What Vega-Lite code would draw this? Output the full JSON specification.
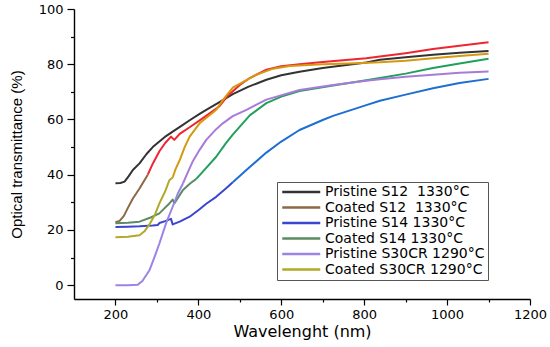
{
  "$schema": "https://vega.github.io/schema/vega-lite/v6.json",
  "width": 456,
  "height": 290,
  "autosize": "none",
  "padding": {"left": 74, "top": 9, "right": 20, "bottom": 48},
  "background": "white",
  "config": {
    "view": {"stroke": null},
    "font": "DejaVu Sans",
    "axis": {
      "grid": false,
      "domainColor": "#000000",
      "domainWidth": 1.4,
      "tickColor": "#000000",
      "tickWidth": 1.2,
      "labelColor": "#000000",
      "titleColor": "#000000",
      "labelFont": "DejaVu Sans",
      "titleFont": "DejaVu Sans",
      "labelFontSize": 13,
      "titleFontWeight": "normal"
    }
  },
  "datasets": {
    "curves": [
      {"s": "Pristine S12\u00a0 1330°C", "g": "a", "x": 200, "y": 36.9},
      {"s": "Pristine S12\u00a0 1330°C", "g": "a", "x": 212, "y": 37.0},
      {"s": "Pristine S12\u00a0 1330°C", "g": "a", "x": 222, "y": 37.5},
      {"s": "Pristine S12\u00a0 1330°C", "g": "a", "x": 232, "y": 39.5},
      {"s": "Pristine S12\u00a0 1330°C", "g": "a", "x": 242, "y": 41.7},
      {"s": "Pristine S12\u00a0 1330°C", "g": "a", "x": 258, "y": 44.1},
      {"s": "Pristine S12\u00a0 1330°C", "g": "a", "x": 275, "y": 47.5},
      {"s": "Pristine S12\u00a0 1330°C", "g": "a", "x": 290, "y": 50.0},
      {"s": "Pristine S12\u00a0 1330°C", "g": "a", "x": 306, "y": 52.0},
      {"s": "Pristine S12\u00a0 1330°C", "g": "a", "x": 322, "y": 54.0},
      {"s": "Pristine S12\u00a0 1330°C", "g": "a", "x": 338, "y": 55.6},
      {"s": "Pristine S12\u00a0 1330°C", "g": "a", "x": 360, "y": 57.8},
      {"s": "Pristine S12\u00a0 1330°C", "g": "a", "x": 380, "y": 59.8},
      {"s": "Pristine S12\u00a0 1330°C", "g": "a", "x": 403, "y": 62.0},
      {"s": "Pristine S12\u00a0 1330°C", "g": "a", "x": 419, "y": 63.5},
      {"s": "Pristine S12\u00a0 1330°C", "g": "a", "x": 451, "y": 66.3},
      {"s": "Pristine S12\u00a0 1330°C", "g": "a", "x": 483, "y": 69.2},
      {"s": "Pristine S12\u00a0 1330°C", "g": "a", "x": 520, "y": 71.8},
      {"s": "Pristine S12\u00a0 1330°C", "g": "a", "x": 564, "y": 74.4},
      {"s": "Pristine S12\u00a0 1330°C", "g": "a", "x": 600, "y": 76.0},
      {"s": "Pristine S12\u00a0 1330°C", "g": "a", "x": 644, "y": 77.3},
      {"s": "Pristine S12\u00a0 1330°C", "g": "a", "x": 700, "y": 78.6},
      {"s": "Pristine S12\u00a0 1330°C", "g": "a", "x": 805, "y": 80.6},
      {"s": "Pristine S12\u00a0 1330°C", "g": "a", "x": 838, "y": 81.6},
      {"s": "Pristine S12\u00a0 1330°C", "g": "a", "x": 900, "y": 82.5},
      {"s": "Pristine S12\u00a0 1330°C", "g": "a", "x": 966, "y": 83.4},
      {"s": "Pristine S12\u00a0 1330°C", "g": "a", "x": 1030, "y": 84.2},
      {"s": "Pristine S12\u00a0 1330°C", "g": "a", "x": 1100, "y": 84.8},

      {"s": "Coated S12\u00a0 1330°C", "g": "a", "x": 200, "y": 22.8},
      {"s": "Coated S12\u00a0 1330°C", "g": "a", "x": 210, "y": 23.3},
      {"s": "Coated S12\u00a0 1330°C", "g": "a", "x": 220, "y": 25.0},
      {"s": "Coated S12\u00a0 1330°C", "g": "a", "x": 230, "y": 28.0},
      {"s": "Coated S12\u00a0 1330°C", "g": "a", "x": 242, "y": 31.4},
      {"s": "Coated S12\u00a0 1330°C", "g": "a", "x": 258, "y": 35.0},
      {"s": "Coated S12\u00a0 1330°C", "g": "a", "x": 270, "y": 38.0},
      {"s": "Coated S12\u00a0 1330°C", "g": "a", "x": 278, "y": 40.0},
      {"s": "Coated S12\u00a0 1330°C", "g": "b", "x": 278, "y": 40.0},
      {"s": "Coated S12\u00a0 1330°C", "g": "b", "x": 290, "y": 44.0},
      {"s": "Coated S12\u00a0 1330°C", "g": "b", "x": 306, "y": 48.5},
      {"s": "Coated S12\u00a0 1330°C", "g": "b", "x": 320, "y": 51.5},
      {"s": "Coated S12\u00a0 1330°C", "g": "b", "x": 334, "y": 53.8},
      {"s": "Coated S12\u00a0 1330°C", "g": "b", "x": 342, "y": 52.6},
      {"s": "Coated S12\u00a0 1330°C", "g": "b", "x": 355, "y": 54.8},
      {"s": "Coated S12\u00a0 1330°C", "g": "b", "x": 379, "y": 57.2},
      {"s": "Coated S12\u00a0 1330°C", "g": "b", "x": 411, "y": 60.5},
      {"s": "Coated S12\u00a0 1330°C", "g": "b", "x": 451, "y": 64.8},
      {"s": "Coated S12\u00a0 1330°C", "g": "b", "x": 471, "y": 68.6},
      {"s": "Coated S12\u00a0 1330°C", "g": "b", "x": 500, "y": 72.5},
      {"s": "Coated S12\u00a0 1330°C", "g": "b", "x": 524, "y": 75.0},
      {"s": "Coated S12\u00a0 1330°C", "g": "b", "x": 564, "y": 78.0},
      {"s": "Coated S12\u00a0 1330°C", "g": "b", "x": 600, "y": 79.3},
      {"s": "Coated S12\u00a0 1330°C", "g": "b", "x": 644, "y": 80.0},
      {"s": "Coated S12\u00a0 1330°C", "g": "b", "x": 700, "y": 80.8},
      {"s": "Coated S12\u00a0 1330°C", "g": "b", "x": 805, "y": 82.2},
      {"s": "Coated S12\u00a0 1330°C", "g": "b", "x": 838, "y": 82.8},
      {"s": "Coated S12\u00a0 1330°C", "g": "b", "x": 900, "y": 84.0},
      {"s": "Coated S12\u00a0 1330°C", "g": "b", "x": 966, "y": 85.5},
      {"s": "Coated S12\u00a0 1330°C", "g": "b", "x": 1030, "y": 86.7},
      {"s": "Coated S12\u00a0 1330°C", "g": "b", "x": 1100, "y": 88.0},

      {"s": "Pristine S14 1330°C", "g": "a", "x": 200, "y": 21.1},
      {"s": "Pristine S14 1330°C", "g": "a", "x": 230, "y": 21.2},
      {"s": "Pristine S14 1330°C", "g": "a", "x": 258, "y": 21.3},
      {"s": "Pristine S14 1330°C", "g": "a", "x": 290, "y": 21.6},
      {"s": "Pristine S14 1330°C", "g": "a", "x": 302, "y": 21.8},
      {"s": "Pristine S14 1330°C", "g": "a", "x": 306, "y": 22.5},
      {"s": "Pristine S14 1330°C", "g": "a", "x": 320, "y": 23.2},
      {"s": "Pristine S14 1330°C", "g": "a", "x": 334, "y": 24.0},
      {"s": "Pristine S14 1330°C", "g": "a", "x": 338, "y": 22.0},
      {"s": "Pristine S14 1330°C", "g": "a", "x": 355, "y": 23.0},
      {"s": "Pristine S14 1330°C", "g": "a", "x": 379, "y": 24.8},
      {"s": "Pristine S14 1330°C", "g": "a", "x": 403, "y": 27.5},
      {"s": "Pristine S14 1330°C", "g": "a", "x": 419, "y": 29.5},
      {"s": "Pristine S14 1330°C", "g": "a", "x": 443, "y": 32.0},
      {"s": "Pristine S14 1330°C", "g": "a", "x": 467, "y": 35.1},
      {"s": "Pristine S14 1330°C", "g": "a", "x": 483, "y": 37.3},
      {"s": "Pristine S14 1330°C", "g": "b", "x": 483, "y": 37.3},
      {"s": "Pristine S14 1330°C", "g": "b", "x": 524, "y": 42.8},
      {"s": "Pristine S14 1330°C", "g": "b", "x": 564, "y": 48.0},
      {"s": "Pristine S14 1330°C", "g": "b", "x": 600, "y": 52.0},
      {"s": "Pristine S14 1330°C", "g": "b", "x": 644, "y": 56.2},
      {"s": "Pristine S14 1330°C", "g": "b", "x": 700, "y": 59.8},
      {"s": "Pristine S14 1330°C", "g": "b", "x": 725, "y": 61.3},
      {"s": "Pristine S14 1330°C", "g": "b", "x": 805, "y": 65.2},
      {"s": "Pristine S14 1330°C", "g": "b", "x": 838, "y": 66.8},
      {"s": "Pristine S14 1330°C", "g": "b", "x": 900, "y": 69.0},
      {"s": "Pristine S14 1330°C", "g": "b", "x": 966, "y": 71.3},
      {"s": "Pristine S14 1330°C", "g": "b", "x": 1030, "y": 73.2},
      {"s": "Pristine S14 1330°C", "g": "b", "x": 1100, "y": 74.7},

      {"s": "Coated S14 1330°C", "g": "a", "x": 200, "y": 22.4},
      {"s": "Coated S14 1330°C", "g": "a", "x": 230, "y": 22.6},
      {"s": "Coated S14 1330°C", "g": "a", "x": 258, "y": 23.0},
      {"s": "Coated S14 1330°C", "g": "a", "x": 285, "y": 24.5},
      {"s": "Coated S14 1330°C", "g": "a", "x": 306, "y": 26.0},
      {"s": "Coated S14 1330°C", "g": "a", "x": 318, "y": 27.8},
      {"s": "Coated S14 1330°C", "g": "a", "x": 330, "y": 29.6},
      {"s": "Coated S14 1330°C", "g": "a", "x": 338, "y": 31.0},
      {"s": "Coated S14 1330°C", "g": "a", "x": 342, "y": 29.6},
      {"s": "Coated S14 1330°C", "g": "a", "x": 363, "y": 34.5},
      {"s": "Coated S14 1330°C", "g": "a", "x": 380, "y": 36.8},
      {"s": "Coated S14 1330°C", "g": "a", "x": 395, "y": 38.5},
      {"s": "Coated S14 1330°C", "g": "b", "x": 395, "y": 38.5},
      {"s": "Coated S14 1330°C", "g": "b", "x": 419, "y": 42.5},
      {"s": "Coated S14 1330°C", "g": "b", "x": 443, "y": 46.5},
      {"s": "Coated S14 1330°C", "g": "b", "x": 467, "y": 51.5},
      {"s": "Coated S14 1330°C", "g": "b", "x": 483, "y": 54.5},
      {"s": "Coated S14 1330°C", "g": "b", "x": 524, "y": 61.5},
      {"s": "Coated S14 1330°C", "g": "b", "x": 564, "y": 65.9},
      {"s": "Coated S14 1330°C", "g": "b", "x": 600, "y": 68.3},
      {"s": "Coated S14 1330°C", "g": "b", "x": 644, "y": 70.3},
      {"s": "Coated S14 1330°C", "g": "b", "x": 725, "y": 72.3},
      {"s": "Coated S14 1330°C", "g": "b", "x": 805, "y": 74.2},
      {"s": "Coated S14 1330°C", "g": "b", "x": 838, "y": 75.0},
      {"s": "Coated S14 1330°C", "g": "b", "x": 900, "y": 76.6},
      {"s": "Coated S14 1330°C", "g": "b", "x": 966, "y": 78.6},
      {"s": "Coated S14 1330°C", "g": "b", "x": 1030, "y": 80.3},
      {"s": "Coated S14 1330°C", "g": "b", "x": 1100, "y": 82.0},

      {"s": "Pristine S30CR 1290°C", "g": "a", "x": 200, "y": 0.0},
      {"s": "Pristine S30CR 1290°C", "g": "a", "x": 230, "y": 0.0},
      {"s": "Pristine S30CR 1290°C", "g": "a", "x": 254, "y": 0.2},
      {"s": "Pristine S30CR 1290°C", "g": "a", "x": 265, "y": 1.5},
      {"s": "Pristine S30CR 1290°C", "g": "a", "x": 282, "y": 5.4},
      {"s": "Pristine S30CR 1290°C", "g": "a", "x": 295, "y": 10.5},
      {"s": "Pristine S30CR 1290°C", "g": "a", "x": 306, "y": 15.1},
      {"s": "Pristine S30CR 1290°C", "g": "a", "x": 322, "y": 22.4},
      {"s": "Pristine S30CR 1290°C", "g": "a", "x": 338, "y": 28.4},
      {"s": "Pristine S30CR 1290°C", "g": "a", "x": 350, "y": 33.0},
      {"s": "Pristine S30CR 1290°C", "g": "a", "x": 363, "y": 36.9},
      {"s": "Pristine S30CR 1290°C", "g": "b", "x": 363, "y": 36.9},
      {"s": "Pristine S30CR 1290°C", "g": "b", "x": 375, "y": 41.0},
      {"s": "Pristine S30CR 1290°C", "g": "b", "x": 387, "y": 45.0},
      {"s": "Pristine S30CR 1290°C", "g": "b", "x": 403, "y": 49.0},
      {"s": "Pristine S30CR 1290°C", "g": "b", "x": 419, "y": 52.6},
      {"s": "Pristine S30CR 1290°C", "g": "b", "x": 443, "y": 56.5},
      {"s": "Pristine S30CR 1290°C", "g": "b", "x": 459, "y": 58.6},
      {"s": "Pristine S30CR 1290°C", "g": "b", "x": 483, "y": 61.2},
      {"s": "Pristine S30CR 1290°C", "g": "b", "x": 516, "y": 63.5},
      {"s": "Pristine S30CR 1290°C", "g": "b", "x": 564, "y": 67.2},
      {"s": "Pristine S30CR 1290°C", "g": "b", "x": 644, "y": 70.7},
      {"s": "Pristine S30CR 1290°C", "g": "b", "x": 725, "y": 72.5},
      {"s": "Pristine S30CR 1290°C", "g": "b", "x": 805, "y": 74.0},
      {"s": "Pristine S30CR 1290°C", "g": "b", "x": 838, "y": 74.6},
      {"s": "Pristine S30CR 1290°C", "g": "b", "x": 900, "y": 75.5},
      {"s": "Pristine S30CR 1290°C", "g": "b", "x": 966, "y": 76.2},
      {"s": "Pristine S30CR 1290°C", "g": "b", "x": 1030, "y": 76.9},
      {"s": "Pristine S30CR 1290°C", "g": "b", "x": 1100, "y": 77.4},

      {"s": "Coated S30CR 1290°C", "g": "a", "x": 200, "y": 17.4},
      {"s": "Coated S30CR 1290°C", "g": "a", "x": 230, "y": 17.5},
      {"s": "Coated S30CR 1290°C", "g": "a", "x": 258, "y": 18.1},
      {"s": "Coated S30CR 1290°C", "g": "a", "x": 270, "y": 19.5},
      {"s": "Coated S30CR 1290°C", "g": "a", "x": 282, "y": 22.0},
      {"s": "Coated S30CR 1290°C", "g": "a", "x": 295, "y": 25.5},
      {"s": "Coated S30CR 1290°C", "g": "a", "x": 306, "y": 29.6},
      {"s": "Coated S30CR 1290°C", "g": "a", "x": 320, "y": 34.0},
      {"s": "Coated S30CR 1290°C", "g": "a", "x": 330, "y": 38.0},
      {"s": "Coated S30CR 1290°C", "g": "a", "x": 338, "y": 39.0},
      {"s": "Coated S30CR 1290°C", "g": "b", "x": 338, "y": 39.0},
      {"s": "Coated S30CR 1290°C", "g": "b", "x": 345, "y": 42.0},
      {"s": "Coated S30CR 1290°C", "g": "b", "x": 355, "y": 45.3},
      {"s": "Coated S30CR 1290°C", "g": "b", "x": 367, "y": 50.0},
      {"s": "Coated S30CR 1290°C", "g": "b", "x": 379, "y": 53.8},
      {"s": "Coated S30CR 1290°C", "g": "b", "x": 403, "y": 58.6},
      {"s": "Coated S30CR 1290°C", "g": "b", "x": 427, "y": 61.5},
      {"s": "Coated S30CR 1290°C", "g": "b", "x": 443, "y": 63.5},
      {"s": "Coated S30CR 1290°C", "g": "b", "x": 459, "y": 67.0},
      {"s": "Coated S30CR 1290°C", "g": "b", "x": 483, "y": 71.5},
      {"s": "Coated S30CR 1290°C", "g": "b", "x": 540, "y": 76.2},
      {"s": "Coated S30CR 1290°C", "g": "b", "x": 580, "y": 78.4},
      {"s": "Coated S30CR 1290°C", "g": "b", "x": 620, "y": 79.4},
      {"s": "Coated S30CR 1290°C", "g": "b", "x": 700, "y": 80.0},
      {"s": "Coated S30CR 1290°C", "g": "b", "x": 781, "y": 80.4},
      {"s": "Coated S30CR 1290°C", "g": "b", "x": 838, "y": 80.7},
      {"s": "Coated S30CR 1290°C", "g": "b", "x": 900, "y": 81.3},
      {"s": "Coated S30CR 1290°C", "g": "b", "x": 966, "y": 82.2},
      {"s": "Coated S30CR 1290°C", "g": "b", "x": 1030, "y": 83.0},
      {"s": "Coated S30CR 1290°C", "g": "b", "x": 1100, "y": 83.8}
    ]
  },
  "data": {"name": "curves"},
  "encoding": {
    "x": {
      "field": "x",
      "type": "quantitative",
      "scale": {"domain": [100, 1200], "nice": false, "zero": false},
      "axis": {
        "title": "Wavelenght (nm)",
        "titleFontSize": 16,
        "titlePadding": 2,
        "values": [200, 300, 400, 500, 600, 700, 800, 900, 1000, 1100, 1200],
        "format": "d",
        "labelExpr": "datum.value % 200 == 0 ? datum.label : ''",
        "tickSize": {"condition": {"test": "datum.value % 200 == 0", "value": 6}, "value": 3},
        "labelPadding": 3,
        "labelFlush": false,
        "labelOverlap": false
      }
    },
    "y": {
      "field": "y",
      "type": "quantitative",
      "scale": {"domain": [-5, 100], "nice": false, "zero": false},
      "axis": {
        "title": "Optical transmittance (%)",
        "titleFont": "Liberation Sans",
        "titleFontSize": 15,
        "titlePadding": 14,
        "values": [0, 10, 20, 30, 40, 50, 60, 70, 80, 90, 100],
        "labelExpr": "datum.value % 20 == 0 ? datum.label : ''",
        "tickSize": {"condition": {"test": "datum.value % 20 == 0", "value": 7}, "value": 3.5},
        "labelPadding": 4,
        "labelFlush": false,
        "labelOverlap": false
      }
    }
  },
  "layer": [
    {
      "transform": [{"filter": "datum.g == 'a'"}],
      "mark": {"type": "line", "strokeWidth": 2, "strokeJoin": "round"},
      "encoding": {
        "color": {
          "field": "s",
          "type": "nominal",
          "scale": {
            "domain": ["Pristine S12\u00a0 1330°C", "Coated S12\u00a0 1330°C", "Pristine S14 1330°C", "Coated S14 1330°C", "Pristine S30CR 1290°C", "Coated S30CR 1290°C"],
            "range": ["#333333", "#8c6844", "#3b46cf", "#5b8b63", "#9c84e6", "#b2a82a"]
          },
          "legend": {
            "title": null,
            "orient": "none",
            "legendX": 203,
            "legendY": 173,
            "symbolType": "M-1,0H7",
            "symbolSize": 90.25,
            "symbolStrokeWidth": 2.5,
            "labelFontSize": 14,
            "labelFont": "DejaVu Sans",
            "labelColor": "#000000",
            "labelOffset": 31,
            "rowPadding": 1.5,
            "padding": 3,
            "strokeColor": "#555555",
            "fillColor": "#ffffff",
            "labelLimit": 400
          }
        }
      }
    },
    {
      "transform": [{"filter": "datum.g == 'b'"}],
      "mark": {"type": "line", "strokeWidth": 2, "strokeJoin": "round"},
      "encoding": {
        "color": {
          "field": "s",
          "type": "nominal",
          "scale": {
            "domain": ["Coated S12\u00a0 1330°C", "Pristine S14 1330°C", "Coated S14 1330°C", "Pristine S30CR 1290°C", "Coated S30CR 1290°C"],
            "range": ["#ef2530", "#1d6fd3", "#21a05c", "#a97bd9", "#d5990f"]
          },
          "legend": null
        }
      }
    }
  ],
  "resolve": {"scale": {"color": "independent"}}
}
